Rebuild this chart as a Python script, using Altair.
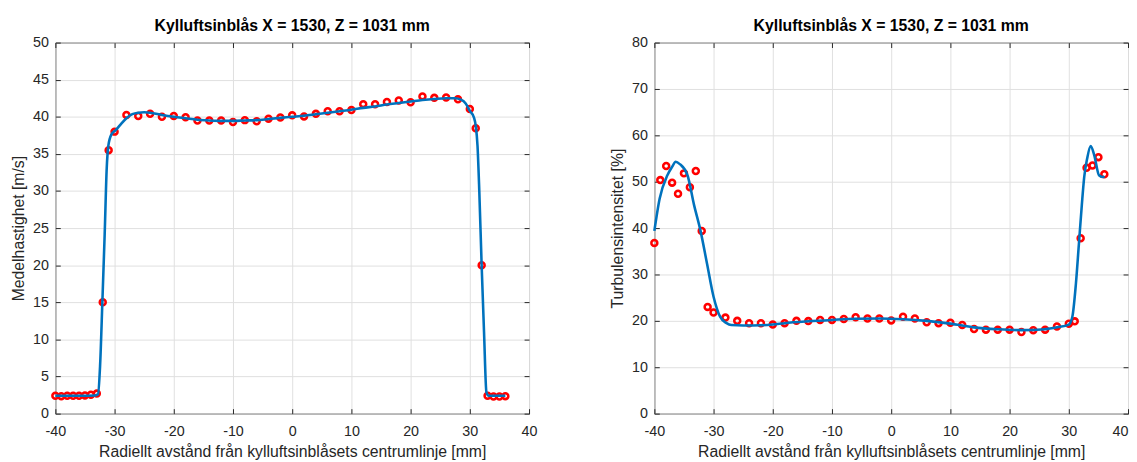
import altair as alt
import pandas as pd

# ---------------- data ----------------
TITLE = "Kylluftsinblås X = 1530, Z = 1031 mm"
XTITLE = "Radiellt avstånd från kylluftsinblåsets centrumlinje [mm]"
YTITLE_L = "Medelhastighet [m/s]"
YTITLE_R = "Turbulensintensitet [%]"

x_ticks = [-40, -30, -20, -10, 0, 10, 20, 30, 40]
yl_ticks = [0, 5, 10, 15, 20, 25, 30, 35, 40, 45, 50]
yr_ticks = [0, 10, 20, 30, 40, 50, 60, 70, 80]

# left panel: measured mean velocity
vel_x = [-40, -39, -38, -37, -36, -35, -34, -33, -32, -31, -30, -28, -26, -24,
         -22, -20, -18, -16, -14, -12, -10, -8, -6, -4, -2, 0, 2, 4, 6, 8, 10,
         12, 14, 16, 18, 20, 22, 24, 26, 28, 30, 31, 32, 33, 34, 35, 36]
vel_y = [2.4, 2.35, 2.4, 2.4, 2.4, 2.45, 2.55, 2.7, 15.0, 35.5, 38.0, 40.25,
         40.1, 40.4, 40.0, 40.1, 39.95, 39.5, 39.5, 39.5, 39.3, 39.55, 39.4,
         39.75, 39.9, 40.2, 40.05, 40.4, 40.75, 40.75, 40.9, 41.7, 41.7, 42.0,
         42.2, 41.95, 42.75, 42.55, 42.6, 42.35, 41.05, 38.45, 20.0, 2.4, 2.3,
         2.3, 2.35]

# left panel: fitted curve
velfit_x = [-40, -36, -33.3, -32.8, -32.45, -32.05, -31.67, -31.33, -31.05,
            -30.55, -29.8, -29, -28, -27, -26, -25, -24, -22, -20, -18, -16,
            -14, -12, -10, -8, -6, -4, -2, 0, 2, 4, 6, 8, 10, 12, 14, 16, 18,
            20, 22, 24, 26, 27.5, 28.5, 29.3, 30.0, 30.7, 31.0, 31.3, 31.6,
            32.0, 32.4, 32.8, 33.2, 36]
velfit_y = [2.4, 2.4, 2.45, 2.6, 6.4, 15.3, 24.2, 33.0, 36.1, 37.6, 38.2,
            38.95, 39.8, 40.35, 40.55, 40.6, 40.55, 40.25, 40.0, 39.8, 39.6,
            39.5, 39.45, 39.45, 39.5, 39.55, 39.7, 39.85, 40.0, 40.15, 40.35,
            40.55, 40.75, 40.95, 41.2, 41.4, 41.65, 41.85, 42.05, 42.25, 42.4,
            42.5, 42.5, 42.3, 41.8, 40.8, 39.9, 38.8, 36.1, 30.0, 19.9, 11.0,
            2.9, 2.4, 2.4]

# right panel: measured turbulence intensity
ti_x = [-40, -39, -38, -37, -36, -35, -34, -33, -32, -31, -30, -28, -26, -24,
        -22, -20, -18, -16, -14, -12, -10, -8, -6, -4, -2, 0, 2, 4, 6, 8, 10,
        12, 14, 16, 18, 20, 22, 24, 26, 28, 30, 31, 32, 33, 34, 35, 36]
ti_y = [36.8, 50.35, 53.4, 49.8, 47.4, 51.8, 48.8, 52.3, 39.4, 23.0, 21.8,
        20.7, 20.0, 19.5, 19.5, 19.2, 19.5, 20.0, 19.95, 20.2, 20.2, 20.4,
        20.8, 20.5, 20.5, 20.1, 20.9, 20.5, 19.7, 19.5, 19.6, 19.1, 18.25,
        18.1, 18.1, 18.1, 17.6, 18.0, 18.1, 18.8, 19.4, 19.9, 37.8, 53.0,
        53.5, 55.3, 51.6]

# right panel: fitted curve
tifit_x = [-40, -39.1, -37.8, -37, -36.4, -35.7, -34.4, -33.3, -32.2, -31.1,
           -30, -28.9, -27.8, -27, -25, -22, -20, -18, -14, -10, -6, -2, 2,
           6, 10, 14, 18, 22, 26, 28, 30, 30.6, 31.2, 31.7, 32.2, 32.6, 33.1,
           33.7, 34.3, 35.1, 35.8, 36]
tifit_y = [39.4, 46.4, 51.4, 53.2, 54.3, 53.8, 51.4, 45.0, 39.4, 32.3, 25.2,
           20.9, 19.5, 19.1, 19.0, 19.05, 19.2, 19.5, 19.9, 20.2, 20.45, 20.5,
           20.35, 20.0, 19.4, 18.6, 18.2, 18.0, 18.2, 18.6, 19.2, 20.9, 28.0,
           36.5, 45.0, 51.0, 55.0, 57.7, 55.7, 51.4, 51.0, 51.2]

# ---------------- styling ----------------
FONT = "Liberation Sans"
TXT = "#262626"
GRID = "#dfdfdf"
RED = "#FF0000"
BLUE = "#0072BD"


def panel(px, py, lx, ly, ymax, yticks, ytitle, last_label_inside):
    pts = pd.DataFrame({"x": px, "y": py})
    fit = pd.DataFrame({"x": lx, "y": ly})
    xs = alt.Scale(domain=[-40, 40], nice=False, zero=False, padding=0)
    ys = alt.Scale(domain=[0, ymax], nice=False, zero=False, padding=0)

    if last_label_inside:
        x_align = {"condition": {"test": "datum.value == 40", "value": "right"},
                   "value": "center"}
    else:
        x_align = "center"

    main_x = alt.Axis(orient="bottom", values=x_ticks, grid=True, gridColor=GRID,
                      ticks=False, domain=False, labelPadding=11,
                      labelFlush=False, labelOverlap=False, labelAlign=x_align,
                      labelExpr="'' + datum.value", labelFont=FONT,
                      labelFontSize=14.5, labelColor=TXT, title=XTITLE,
                      titleFont=FONT, titleFontSize=16, titleFontWeight="normal",
                      titleColor=TXT, titlePadding=6)
    main_y = alt.Axis(orient="left", values=yticks, grid=True, gridColor=GRID,
                      ticks=False, domain=False, labelPadding=7,
                      labelFlush=False, labelOverlap=False,
                      labelExpr="'' + datum.value", labelFont=FONT,
                      labelFontSize=14.5, labelColor=TXT, title=ytitle,
                      titleFont=FONT, titleFontSize=16, titleFontWeight="normal",
                      titleColor=TXT, titlePadding=6)

    def tick_axis(orient, vals):
        return alt.Axis(orient=orient, values=vals, grid=False, labels=False,
                        domain=False, ticks=True, tickSize=5, tickColor=TXT,
                        tickWidth=1, offset=-5, title=None)

    points = alt.Chart(pts).mark_point(
        shape="circle", filled=False, color=RED, strokeWidth=2.6, size=36, opacity=1
    ).encode(
        x=alt.X("x:Q", scale=xs, axis=main_x),
        y=alt.Y("y:Q", scale=ys, axis=main_y),
    )
    ghost = alt.Chart(pts).mark_point(opacity=0).encode(
        x=alt.X("x:Q", scale=xs, axis=tick_axis("top", x_ticks)),
        y=alt.Y("y:Q", scale=ys, axis=tick_axis("right", yticks)),
    )
    line = alt.Chart(fit).mark_line(
        color=BLUE, strokeWidth=2.6, interpolate="monotone"
    ).encode(
        x=alt.X("x:Q", scale=xs, axis=tick_axis("bottom", x_ticks)),
        y=alt.Y("y:Q", scale=ys, axis=tick_axis("left", yticks)),
    )
    return alt.layer(points, ghost, line).resolve_axis(
        x="independent", y="independent"
    ).properties(
        width=480, height=376,
        title=alt.TitleParams(TITLE, font=FONT, fontSize=16, fontWeight="bold",
                              color="#000000", offset=1, anchor="middle"),
    )


left = panel(vel_x, vel_y, velfit_x, velfit_y, 50, yl_ticks, YTITLE_L, False)
right = panel(ti_x, ti_y, tifit_x, tifit_y, 80, yr_ticks, YTITLE_R, True)

chart = alt.hconcat(left, right, spacing=72).resolve_scale(
    x="independent", y="independent"
).properties(
    padding={"left": 2, "top": 6, "right": 0, "bottom": 0},
    background="white",
).configure_view(stroke=TXT, strokeWidth=1)

chart.save("out.html", embed_options={"renderer": "svg", "actions": False})
